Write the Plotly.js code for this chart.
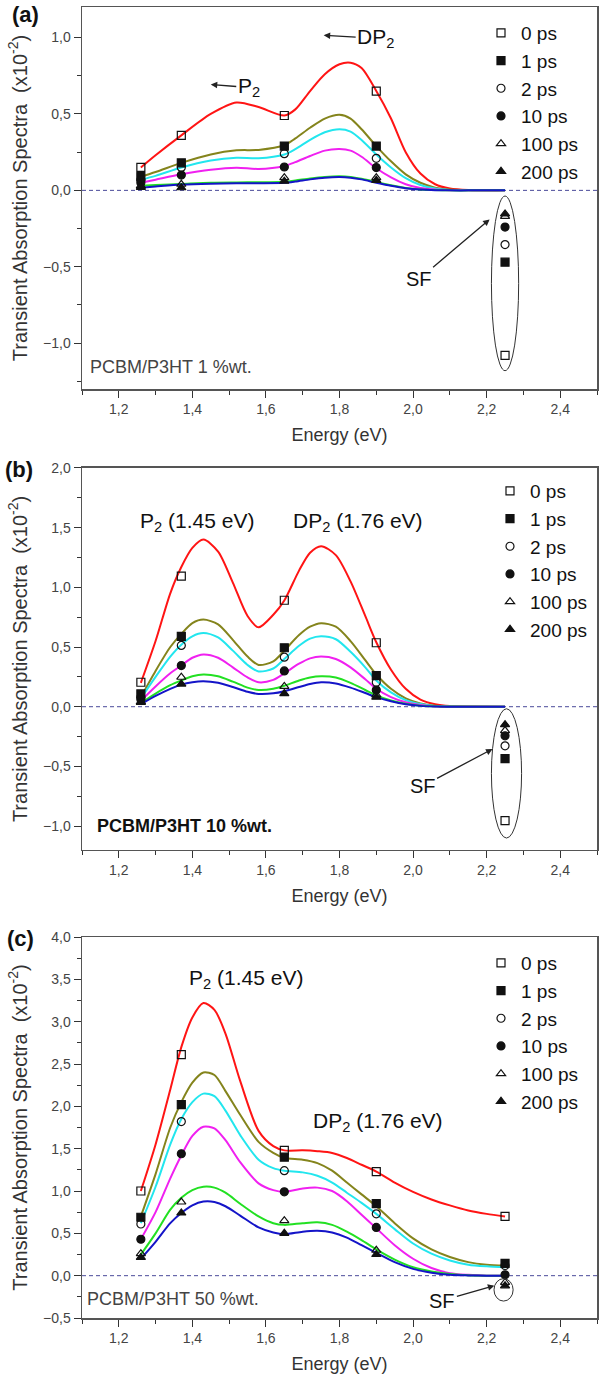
<!DOCTYPE html>
<html><head><meta charset="utf-8">
<script src="https://cdn.plot.ly/plotly-3.0.1.min.js"></script>
<style>html,body{margin:0;padding:0;background:#fff}</style>
</head><body><div id="chart" style="width:600px;height:1378px"></div>
<script>
// ---------- data ----------
const seriesNames = ['0 ps','1 ps','2 ps','10 ps','100 ps','200 ps'];
const energies = [1.26, 1.37, 1.65, 1.90, 2.25];

// Panel (a): PCBM/P3HT 1 %wt.
const aCurveX = [1.26,1.30,1.37,1.45,1.52,1.58,1.65,1.68,1.72,1.76,1.80,1.83,1.86,1.90,1.94,1.98,2.02,2.06,2.10,2.15,2.25];
const aCurve0   = [0.15,0.23,0.36,0.50,0.575,0.545,0.49,0.53,0.65,0.76,0.825,0.835,0.80,0.65,0.47,0.25,0.11,0.04,0.012,0.002,0];
const aCurve1   = [0.09,0.12,0.18,0.235,0.262,0.265,0.295,0.34,0.41,0.47,0.495,0.47,0.40,0.29,0.19,0.105,0.05,0.018,0.005,0.001,0];
const aCurve2   = [0.07,0.095,0.15,0.195,0.213,0.21,0.235,0.27,0.33,0.38,0.40,0.385,0.33,0.235,0.15,0.08,0.035,0.012,0.003,0.001,0];
const aCurve10  = [0.05,0.07,0.105,0.135,0.148,0.14,0.16,0.185,0.225,0.26,0.27,0.26,0.22,0.145,0.085,0.04,0.015,0.005,0.001,0,0];
const aCurve100 = [0.03,0.035,0.042,0.05,0.052,0.053,0.057,0.065,0.078,0.088,0.092,0.088,0.076,0.055,0.033,0.016,0.006,0.002,0,0,0];
const aCurve200 = [0.017,0.025,0.038,0.044,0.046,0.047,0.05,0.058,0.072,0.083,0.087,0.083,0.072,0.05,0.03,0.014,0.005,0.001,0,0,0];
const aMark0   = [0.15,0.36,0.49,0.65,-1.08];
const aMark1   = [0.09,0.18,0.29,0.29,-0.47];
const aMark2   = [0.07,0.15,0.24,0.21,-0.355];
const aMark10  = [0.05,0.10,0.153,0.149,-0.24];
const aMark100 = [0.03,0.04,0.083,0.083,-0.17];
const aMark200 = [0.02,0.017,0.06,0.066,-0.154];

// Panel (b): PCBM/P3HT 10 %wt.
const bCurveX = [1.26,1.30,1.34,1.37,1.40,1.43,1.47,1.51,1.55,1.58,1.62,1.65,1.69,1.72,1.75,1.79,1.83,1.87,1.90,1.94,1.98,2.02,2.06,2.10,2.25];
const bCurve0   = [0.2,0.55,0.95,1.17,1.33,1.40,1.30,1.04,0.76,0.665,0.77,0.89,1.14,1.29,1.345,1.27,1.05,0.76,0.54,0.31,0.15,0.06,0.02,0.005,0];
const bCurve1   = [0.08,0.3,0.5,0.61,0.70,0.73,0.69,0.56,0.42,0.35,0.38,0.47,0.60,0.67,0.70,0.67,0.55,0.39,0.27,0.15,0.07,0.028,0.009,0.002,0];
const bCurve2   = [0.07,0.25,0.42,0.52,0.59,0.617,0.58,0.47,0.35,0.295,0.32,0.40,0.51,0.57,0.59,0.565,0.46,0.33,0.22,0.12,0.055,0.022,0.007,0.002,0];
const bCurve10  = [0.05,0.17,0.28,0.345,0.41,0.438,0.41,0.33,0.245,0.205,0.225,0.28,0.36,0.405,0.42,0.40,0.33,0.23,0.15,0.08,0.037,0.014,0.004,0.001,0];
const bCurve100 = [0.03,0.11,0.18,0.22,0.255,0.27,0.255,0.21,0.16,0.14,0.15,0.175,0.22,0.245,0.255,0.245,0.20,0.14,0.095,0.052,0.024,0.009,0.003,0.001,0];
const bCurve200 = [0.02,0.09,0.15,0.185,0.205,0.213,0.20,0.165,0.125,0.107,0.112,0.13,0.165,0.19,0.205,0.195,0.16,0.115,0.08,0.045,0.02,0.007,0.002,0,0];
const bMark0   = [0.205,1.094,0.892,0.536,-0.954];
const bMark1   = [0.107,0.59,0.494,0.26,-0.435];
const bMark2   = [0.08,0.513,0.415,0.205,-0.328];
const bMark10  = [0.06,0.345,0.30,0.14,-0.244];
const bMark100 = [0.04,0.247,0.17,0.10,-0.2];
const bMark200 = [0.036,0.19,0.11,0.08,-0.15];

// Panel (c): PCBM/P3HT 50 %wt.
const cCurveX = [1.26,1.30,1.34,1.37,1.40,1.43,1.46,1.49,1.53,1.58,1.62,1.65,1.70,1.74,1.78,1.82,1.86,1.90,1.95,2.00,2.05,2.10,2.15,2.20,2.25];
const cCurve0   = [1.0,1.55,2.2,2.7,3.05,3.22,3.14,2.86,2.3,1.71,1.53,1.48,1.48,1.47,1.45,1.39,1.31,1.23,1.10,0.99,0.90,0.83,0.77,0.73,0.70];
const cCurve1   = [0.7,1.2,1.75,2.05,2.28,2.40,2.37,2.18,1.90,1.58,1.45,1.39,1.37,1.33,1.24,1.10,0.96,0.82,0.62,0.44,0.31,0.22,0.16,0.13,0.12];
const cCurve2   = [0.62,1.05,1.55,1.85,2.05,2.15,2.12,1.95,1.66,1.37,1.27,1.24,1.22,1.18,1.10,0.98,0.86,0.73,0.55,0.38,0.26,0.18,0.13,0.11,0.10];
const cCurve10  = [0.43,0.75,1.15,1.42,1.65,1.76,1.74,1.60,1.34,1.09,1.01,0.99,1.03,1.04,1.0,0.88,0.72,0.56,0.36,0.20,0.09,0.03,0.01,0,0];
const cCurve100 = [0.25,0.5,0.78,0.92,1.01,1.05,1.04,0.98,0.85,0.70,0.62,0.60,0.62,0.63,0.60,0.52,0.42,0.31,0.19,0.10,0.05,0.02,0.005,0,0];
const cCurve200 = [0.2,0.4,0.62,0.74,0.83,0.875,0.87,0.82,0.71,0.57,0.51,0.49,0.52,0.53,0.51,0.45,0.36,0.27,0.16,0.08,0.035,0.01,0.003,0,0];
const cMark0   = [1.0,2.61,1.48,1.23,0.70];
const cMark1   = [0.69,2.02,1.40,0.85,0.145];
const cMark2   = [0.61,1.82,1.24,0.73,0.12];
const cMark10  = [0.43,1.44,0.99,0.57,0.01];
const cMark100 = [0.26,0.87,0.65,0.30,-0.08];
const cMark200 = [0.216,0.74,0.50,0.25,-0.12];

// ---------- styling ----------
const FONT = 'Liberation Sans, Arial, sans-serif';
const lineColors = ['#ff1414','#84841c','#22e6ee','#f020f0','#22e022','#1414c8'];
const symbols = ['square-open','square','circle-open','circle','triangle-up-open','triangle-up'];

const panels = [
  {cx:aCurveX, curves:[aCurve0,aCurve1,aCurve2,aCurve10,aCurve100,aCurve200], marks:[aMark0,aMark1,aMark2,aMark10,aMark100,aMark200], xa:'x', ya:'y', lg:'legend'},
  {cx:bCurveX, curves:[bCurve0,bCurve1,bCurve2,bCurve10,bCurve100,bCurve200], marks:[bMark0,bMark1,bMark2,bMark10,bMark100,bMark200], xa:'x2', ya:'y2', lg:'legend2'},
  {cx:cCurveX, curves:[cCurve0,cCurve1,cCurve2,cCurve10,cCurve100,cCurve200], marks:[cMark0,cMark1,cMark2,cMark10,cMark100,cMark200], xa:'x3', ya:'y3', lg:'legend3'}
];

const traces = [];
panels.forEach(p => {
  p.curves.forEach((cy, i) => {
    traces.push({x:p.cx, y:cy, xaxis:p.xa, yaxis:p.ya, mode:'lines', type:'scatter',
      line:{color:lineColors[i], width:2, shape:'spline', smoothing:0.8},
      showlegend:false, hoverinfo:'skip'});
  });
  p.marks.forEach((my, i) => {
    traces.push({x:energies, y:my, xaxis:p.xa, yaxis:p.ya, mode:'markers', type:'scatter',
      name:seriesNames[i], legend:p.lg,
      marker:{symbol:symbols[i], size:8, color:'#111', line:{color:i%2===0?'#444':'#111', width:1.2}}});
  });
});

// pixel helpers for paper-referenced text
const L = 82, R = 3, T = 7, B = 60, W = 600, H = 1378;
const pxX = px => (px - L) / (W - L - R);
const pxY = py => (H - B - py) / (H - T - B);

function xAxis(anchor){
  return {anchor:anchor, domain:[0,1], range:[1.1,2.5], tick0:1.2, dtick:0.2, tickformat:'.1f',
    ticks:'outside', ticklen:7, tickcolor:'#333', tickwidth:1,
    minor:{dtick:0.1, ticks:'outside', ticklen:4, tickcolor:'#333'},
    showline:true, mirror:true, linecolor:'#555', linewidth:1.5, showgrid:false, zeroline:false,
    tickfont:{family:FONT, size:14, color:'#444'},
    title:{text:'Energy (eV)', font:{family:FONT, size:18, color:'#333'}, standoff:12}};
}
function yAxis(anchor, dom, rng){
  return {anchor:anchor, domain:dom, range:rng, dtick:0.5, tick0:0, tickformat:'.1f',
    ticks:'outside', ticklen:7, tickcolor:'#333', tickwidth:1,
    minor:{dtick:0.25, ticks:'outside', ticklen:4, tickcolor:'#333'},
    showline:true, mirror:true, linecolor:'#555', linewidth:1.5, showgrid:false, zeroline:false,
    tickfont:{family:FONT, size:14, color:'#444'},
    title:{text:'Transient Absorption Spectra  (x10<sup>-2</sup>)', font:{family:FONT, size:20, color:'#333'}, standoff:10}};
}

function legendAt(textLeftPx, topPx){
  return {x:pxX(textLeftPx-42), y:pxY(topPx), xanchor:'left', yanchor:'top', bgcolor:'rgba(0,0,0,0)',
    font:{family:FONT, size:19, color:'#111'}, itemclick:false};
}

const zeroLine = (xr, yr) => ({type:'line', xref:xr+' domain', yref:yr, x0:0, x1:1, y0:0, y1:0,
  line:{color:'#4a4a9a', width:1, dash:'4px,3px'}, layer:'below'});

const ann = [];
const txt = (text, x, y, xr, yr, size, extra) => Object.assign({text:text, x:x, y:y, xref:xr, yref:yr, showarrow:false,
  xanchor:'center', yanchor:'middle', font:{family:FONT, size:size, color:'#111'}}, extra||{});
const arrow = (text, x, y, xr, yr, ax, ay, size) => ({text:text, x:x, y:y, xref:xr, yref:yr, showarrow:true,
  ax:ax, ay:ay, arrowhead:2, arrowsize:1, arrowwidth:1.3, arrowcolor:'#222',
  font:{family:FONT, size:size, color:'#111'}});

// panel letters
ann.push(txt('<b>(a)</b>', pxX(25), pxY(15), 'paper','paper', 22));
ann.push(txt('<b>(b)</b>', pxX(19), pxY(470), 'paper','paper', 22));
ann.push(txt('<b>(c)</b>', pxX(20), pxY(938), 'paper','paper', 22));
// panel (a)
ann.push(arrow('P<sub>2</sub>', 1.45, 0.693, 'x','y', 38, 3, 21));
ann.push(arrow('DP<sub>2</sub>', 1.757, 1.015, 'x','y', 52, 3, 21));
ann.push(arrow('SF', 2.208, -0.19, 'x','y', -71, 60, 20));
ann.push(txt('PCBM/P3HT 1 %wt.', 1.115, -1.155, 'x','y', 18, {xanchor:'left', font:{family:FONT,size:18,color:'#444'}}));
// panel (b)
ann.push(txt('P<sub>2</sub> (1.45 eV)', 1.412, 1.55, 'x2','y2', 21));
ann.push(txt('DP<sub>2</sub> (1.76 eV)', 1.85, 1.55, 'x2','y2', 21));
ann.push(arrow('SF', 2.216, -0.354, 'x2','y2', -70, 37, 20));
ann.push(txt('<b>PCBM/P3HT 10 %wt.</b>', 1.135, -1.0, 'x2','y2', 18, {xanchor:'left'}));
// panel (c)
ann.push(txt('P<sub>2</sub> (1.45 eV)', 1.545, 3.51, 'x3','y3', 21));
ann.push(txt('DP<sub>2</sub> (1.76 eV)', 1.906, 1.82, 'x3','y3', 21));
ann.push(arrow('SF', 2.221, -0.118, 'x3','y3', -52, 15, 20));
ann.push(txt('PCBM/P3HT 50 %wt.', 1.108, -0.27, 'x3','y3', 18, {xanchor:'left', font:{family:FONT,size:18,color:'#444'}}));

const shapes = [
  zeroLine('x','y'), zeroLine('x2','y2'), zeroLine('x3','y3'),
  {type:'circle', xref:'x', yref:'y', x0:2.213, x1:2.287, y0:-1.18, y1:-0.037, line:{color:'#333', width:1}},
  {type:'circle', xref:'x2', yref:'y2', x0:2.213, x1:2.295, y0:-1.10, y1:-0.017, line:{color:'#333', width:1}},
  {type:'circle', xref:'x3', yref:'y3', x0:2.22, x1:2.272, y0:-0.30, y1:-0.035, line:{color:'#333', width:1}}
];

const layout = {
  width:W, height:H, margin:{l:L, r:R, t:T, b:B}, paper_bgcolor:'#fff', plot_bgcolor:'#fff',
  separators:',.', showlegend:true,
  xaxis:xAxis('y'), xaxis2:xAxis('y2'), xaxis3:xAxis('y3'),
  yaxis:yAxis('x', [0.7086,1], [-1.3,1.2]),
  yaxis2:yAxis('x2', [0.357,0.6484], [-1.2,2.0]),
  yaxis3:yAxis('x3', [0,0.2906], [-0.5,4.0]),
  legend:legendAt(523, 14), legend2:legendAt(532, 472), legend3:legendAt(523, 944),
  annotations:ann, shapes:shapes
};

Plotly.newPlot('chart', traces, layout, {displayModeBar:false, staticPlot:true});
</script></body></html>
